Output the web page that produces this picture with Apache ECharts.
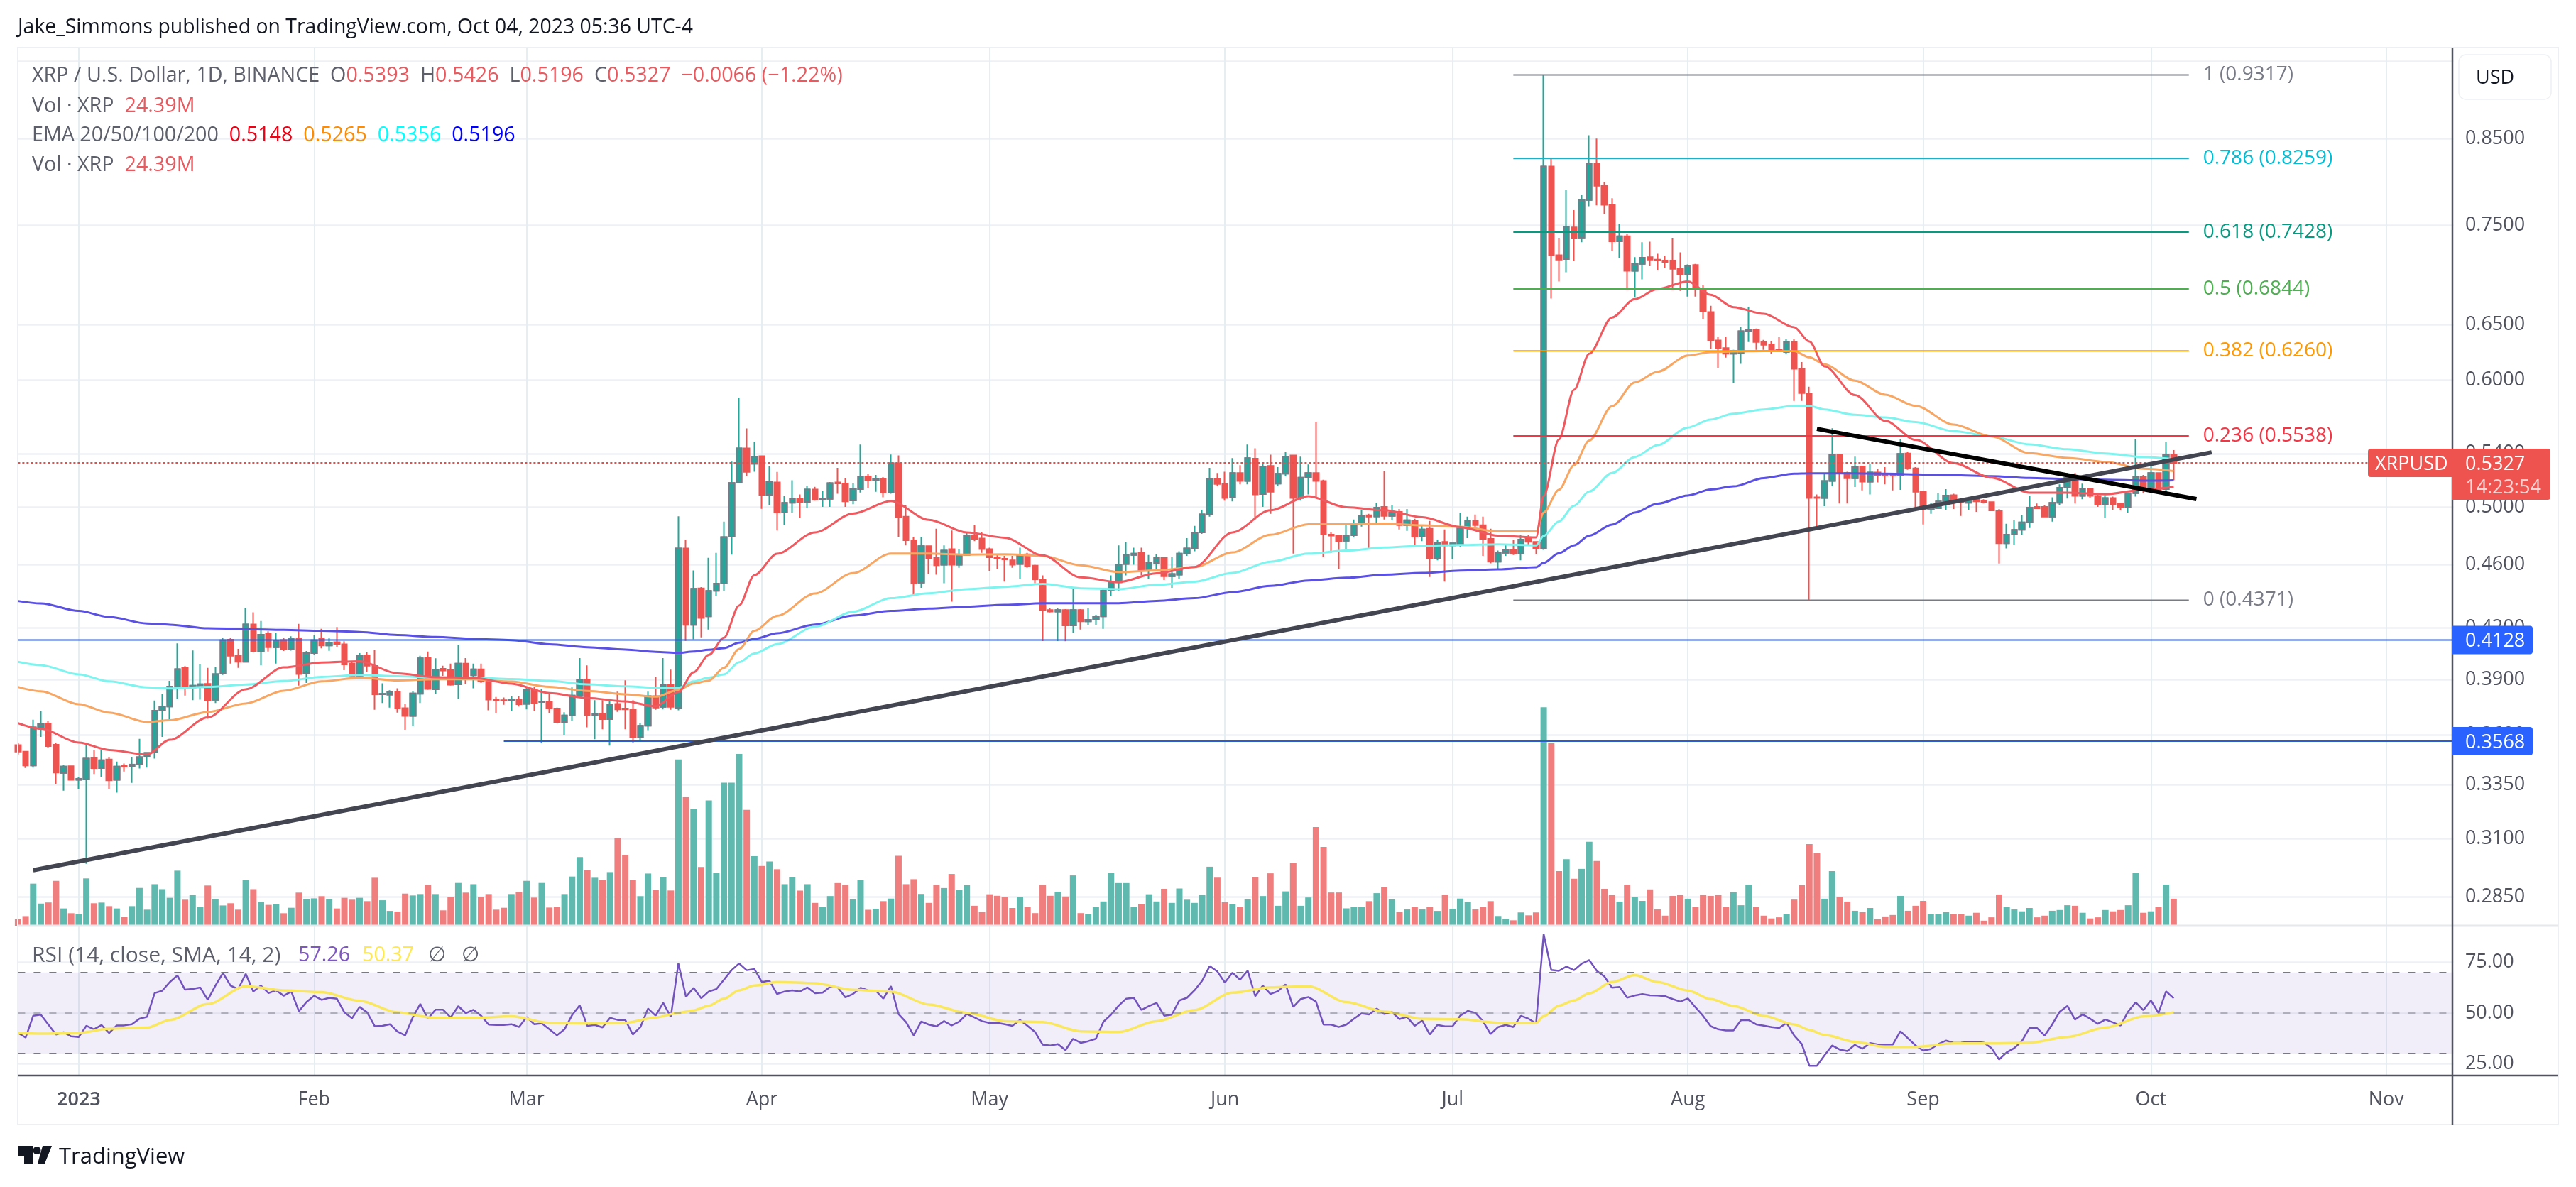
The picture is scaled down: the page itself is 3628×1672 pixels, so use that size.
<!DOCTYPE html>
<html>
<head>
<meta charset="utf-8">
<title>XRP / U.S. Dollar</title>
<script src="https://cdn.jsdelivr.net/npm/echarts@6/dist/echarts.min.js"></script>
<style>
  html, body { margin: 0; padding: 0; background: #fff; }
  #chart { width: 3628px; height: 1672px; }
</style>
</head>
<body>
<div id="chart"></div>
<script>
// daily candles, 2022-12-24 to 2023-10-04
const opens = [
  .3548,.3515,.3445,.3640,.3660,.3550,.3408,.3442,.3375,.3377,
  .3482,.3432,.3475,.3375,.3443,.3443,.3452,.3490,.3510,.3728,
  .3750,.3858,.3965,.3855,.3862,.3875,.3787,.3933,.4130,.4035,
  .4000,.4222,.4060,.4165,.4085,.4128,.4075,.4138,.3933,.4050,
  .4138,.4095,.4115,.4103,.3990,.3918,.4038,.3977,.3817,.3815,
  .3832,.3742,.3700,.3820,.4025,.3845,.3960,.3952,.3872,.3990,
  .3923,.3957,.3890,.3788,.3785,.3783,.3788,.3765,.3845,.3775,
  .3778,.3740,.3668,.3703,.3810,.3900,.3705,.3712,.3683,.3765,
  .3740,.3735,.3590,.3648,.3807,.3748,.3870,.3743,.4710,.4218,
  .4447,.4270,.4431,.4477,.4790,.5180,.5440,.5320,.5380,.5088,
  .5180,.4960,.5030,.5062,.5036,.5127,.5052,.5058,.5180,.5172,
  .5047,.5130,.5225,.5195,.5208,.5105,.5325,.4930,.4765,.4483,
  .4725,.4645,.4600,.4705,.4600,.4665,.4798,.4778,.4705,.4650,
  .4640,.4630,.4605,.4670,.4595,.4500,.4310,.4300,.4310,.4215,
  .4310,.4240,.4250,.4270,.4432,.4485,.4605,.4665,.4680,.4565,
  .4612,.4645,.4525,.4535,.4675,.4710,.4820,.4947,.5205,.5168,
  .5070,.5250,.5190,.5360,.5093,.5305,.5170,.5245,.5385,.5065,
  .5215,.5250,.5190,.4805,.4797,.4762,.4800,.4875,.4940,.4932,
  .5000,.4935,.4965,.4870,.4900,.4790,.4845,.4640,.4755,.4730,
  .4740,.4850,.4900,.4870,.4775,.4620,.4680,.4700,.4675,.4785,
  .4755,.4712,.8165,.7185,.7145,.7480,.7370,.7780,.8200,.7940,
  .7725,.7330,.7385,.7025,.7095,.7165,.7140,.7130,.7130,.7045,
  .6985,.7085,.6850,.6620,.6355,.6285,.6235,.6240,.6440,.6450,
  .6340,.6320,.6270,.6250,.6340,.6100,.5885,.5070,.5065,.5190,
  .5390,.5250,.5210,.5300,.5185,.5255,.5235,.5240,.5235,.5400,
  .5285,.5110,.4985,.4990,.5040,.5085,.5050,.5030,.5060,.5045,
  .5035,.4970,.4745,.4805,.4838,.4892,.5000,.5000,.4930,.5030,
  .5140,.5215,.5080,.5130,.5080,.5020,.5065,.5025,.5000,.5100,
  .5220,.5145,.5250,.5130,.5393
];
const highs = [
  .3560,.3515,.3680,.3725,.3675,.3560,.3450,.3445,.3390,.3555,
  .3523,.3523,.3487,.3465,.3455,.3487,.3580,.3512,.3783,.3820,
  .3892,.4108,.3975,.4066,.3987,.3965,.3970,.4140,.4140,.4075,
  .4323,.4296,.4242,.4180,.4170,.4140,.4150,.4225,.4063,.4155,
  .4195,.4140,.4205,.4120,.4000,.4050,.4055,.4068,.3878,.3840,
  .3850,.3765,.3835,.4035,.4060,.4020,.3978,.3990,.4100,.4022,
  .3990,.3990,.3910,.3803,.3800,.3805,.3805,.3860,.3860,.3848,
  .3818,.3745,.3720,.3855,.4022,.3980,.3785,.3785,.3780,.3832,
  .3895,.3785,.3662,.3832,.3913,.4022,.3955,.4933,.4770,.4563,
  .4455,.4646,.4680,.4895,.5337,.5852,.5598,.5492,.5385,.5300,
  .5258,.5078,.5195,.5091,.5153,.5147,.5115,.5183,.5290,.5213,
  .5172,.5470,.5245,.5235,.5220,.5392,.5385,.5010,.4790,.4790,
  .4725,.4845,.4730,.4833,.4705,.4820,.4870,.4820,.4715,.4665,
  .4660,.4660,.4715,.4680,.4600,.4530,.4320,.4320,.4315,.4445,
  .4315,.4320,.4280,.4445,.4530,.4730,.4755,.4715,.4715,.4665,
  .4670,.4645,.4650,.4690,.4780,.4865,.4980,.5290,.5250,.5260,
  .5365,.5310,.5470,.5440,.5330,.5390,.5295,.5410,.5385,.5375,
  .5315,.5653,.5200,.4820,.4800,.4870,.4910,.4980,.4950,.5030,
  .5268,.5010,.4985,.4985,.4915,.4870,.4900,.4770,.4840,.4750,
  .4960,.4930,.4945,.4930,.4845,.4695,.4740,.4770,.4800,.4805,
  .4760,.9317,.8255,.7368,.7890,.7667,.7840,.8540,.8500,.7985,
  .7800,.7515,.7405,.7165,.7320,.7325,.7200,.7180,.7368,.7215,
  .7090,.7095,.6885,.6680,.6390,.6390,.6270,.6480,.6670,.6465,
  .6360,.6350,.6385,.6370,.6370,.6160,.5945,.5090,.5245,.5600,
  .5395,.5260,.5375,.5305,.5320,.5280,.5295,.5250,.5510,.5415,
  .5295,.5115,.5030,.5100,.5130,.5095,.5060,.5070,.5075,.5055,
  .5040,.4985,.4880,.4905,.4940,.5080,.5025,.5010,.5070,.5165,
  .5250,.5250,.5170,.5140,.5100,.5085,.5075,.5030,.5105,.5510,
  .5235,.5320,.5255,.5490,.5426
];
const lows = [
  .3500,.3433,.3435,.3590,.3535,.3355,.3322,.3372,.3332,.2990,
  .3403,.3390,.3330,.3313,.3415,.3360,.3430,.3435,.3480,.3590,
  .3680,.3790,.3810,.3785,.3788,.3685,.3770,.3925,.3990,.3965,
  .3998,.4055,.3980,.4060,.3990,.4063,.4065,.3865,.3880,.4040,
  .4078,.4064,.4085,.3952,.3905,.3903,.3943,.3733,.3770,.3745,
  .3718,.3627,.3645,.3770,.3842,.3817,.3920,.3865,.3792,.3875,
  .3850,.3880,.3730,.3715,.3760,.3725,.3750,.3735,.3728,.3558,
  .3715,.3660,.3597,.3675,.3805,.3640,.3578,.3630,.3545,.3722,
  .3630,.3560,.3570,.3625,.3733,.3735,.3733,.3730,.4122,.4132,
  .4144,.4190,.4398,.4431,.4668,.5180,.5226,.5260,.4986,.5010,
  .4833,.4870,.4960,.4922,.4994,.5045,.5000,.5000,.5095,.5000,
  .5020,.5105,.5140,.5110,.5070,.5095,.4790,.4730,.4400,.4450,
  .4540,.4535,.4480,.4362,.4580,.4660,.4760,.4680,.4560,.4570,
  .4490,.4580,.4510,.4580,.4480,.4121,.4295,.4121,.4120,.4170,
  .4190,.4220,.4220,.4195,.4400,.4430,.4530,.4600,.4530,.4505,
  .4570,.4500,.4450,.4510,.4660,.4690,.4810,.4930,.5150,.5045,
  .5040,.5165,.5165,.4910,.5000,.4950,.5150,.5225,.4675,.5045,
  .5090,.5070,.4650,.4680,.4575,.4700,.4785,.4860,.4710,.4870,
  .4910,.4905,.4840,.4830,.4725,.4760,.4520,.4630,.4490,.4640,
  .4720,.4780,.4840,.4660,.4610,.4570,.4660,.4665,.4630,.4735,
  .4670,.4700,.6750,.6918,.7010,.7130,.7320,.7710,.7720,.7620,
  .7230,.7160,.6832,.6760,.6940,.7080,.7030,.7050,.6830,.6825,
  .6770,.6770,.6555,.6275,.6110,.6200,.5980,.6145,.6340,.6270,
  .6270,.6235,.6250,.6230,.5825,.5825,.4371,.4840,.5005,.5150,
  .5025,.5025,.5145,.5120,.5090,.5180,.5165,.5120,.5125,.5275,
  .4970,.4875,.4950,.4985,.4980,.4985,.4935,.4980,.4965,.5025,
  .4970,.4608,.4710,.4735,.4805,.4850,.4985,.4925,.4895,.5015,
  .5060,.5025,.5055,.5065,.5000,.4920,.4980,.4975,.4960,.5075,
  .5100,.5115,.5095,.5095,.5196
];
const closes = [
  .3515,.3445,.3640,.3657,.3543,.3410,.3440,.3375,.3380,.3480,
  .3432,.3472,.3372,.3440,.3439,.3450,.3487,.3508,.3728,.3750,
  .3860,.3958,.3855,.3865,.3873,.3785,.3930,.4127,.4035,.4000,
  .4222,.4063,.4160,.4085,.4125,.4072,.4135,.3930,.4050,.4127,
  .4095,.4112,.4105,.3985,.3915,.4035,.3978,.3817,.3820,.3832,
  .3740,.3700,.3822,.4020,.3847,.3955,.3950,.3870,.3990,.3920,
  .3957,.3888,.3788,.3782,.3782,.3788,.3763,.3842,.3770,.3778,
  .3740,.3668,.3703,.3810,.3900,.3705,.3712,.3683,.3760,.3735,
  .3735,.3590,.3648,.3807,.3745,.3870,.3748,.4710,.4218,.4444,
  .4261,.4431,.4477,.4787,.5176,.5440,.5258,.5375,.5088,.5185,
  .4960,.5030,.5062,.5036,.5127,.5052,.5060,.5175,.5172,.5040,
  .5130,.5225,.5195,.5208,.5105,.5325,.4925,.4765,.4479,.4725,
  .4640,.4597,.4695,.4600,.4665,.4795,.4775,.4705,.4650,.4640,
  .4636,.4600,.4665,.4590,.4505,.4310,.4300,.4310,.4215,.4310,
  .4240,.4250,.4270,.4432,.4485,.4600,.4665,.4675,.4565,.4612,
  .4645,.4525,.4540,.4675,.4710,.4820,.4947,.5205,.5168,.5065,
  .5250,.5190,.5365,.5090,.5300,.5110,.5245,.5375,.5065,.5215,
  .5250,.5190,.4805,.4797,.4760,.4800,.4875,.4935,.4930,.4995,
  .4935,.4960,.4870,.4905,.4790,.4840,.4640,.4750,.4730,.4745,
  .4850,.4900,.4870,.4775,.4620,.4680,.4700,.4675,.4770,.4755,
  .4710,.8165,.7185,.7140,.7487,.7368,.7780,.8200,.7940,.7725,
  .7330,.7385,.7025,.7095,.7160,.7140,.7130,.7115,.7045,.6985,
  .7080,.6850,.6625,.6355,.6285,.6235,.6260,.6440,.6450,.6340,
  .6315,.6265,.6255,.6340,.6100,.5890,.5065,.5065,.5190,.5390,
  .5250,.5210,.5295,.5185,.5255,.5235,.5230,.5230,.5397,.5285,
  .5110,.4985,.5010,.5040,.5082,.5045,.5035,.5055,.5040,.5035,
  .4975,.4745,.4805,.4838,.4890,.4995,.4990,.4930,.5030,.5140,
  .5215,.5080,.5130,.5080,.5020,.5065,.5020,.4995,.5100,.5220,
  .5145,.5250,.5125,.5393,.5327
];
// millions of XRP
const volumes = [
  6,8.7,38,20,21,40.5,15.6,11.3,10.7,42.7,
  20.3,20.9,17.7,15.6,8.1,17.7,34.1,14.5,37.5,33,
  25.2,49.7,23.5,27.7,17,36.3,24.1,18.3,20.3,14.5,
  41.2,33,21.5,18.8,19.6,11.3,16.2,29.9,24.1,24.7,
  26.7,24.1,15.6,25.2,23.5,25.2,22.2,43.3,23,13.4,
  12.8,29,27.3,28.6,36.9,28.6,13.9,26,38.6,29.9,
  37.5,26,28.6,14.5,16.2,28.6,30.5,40.5,25.4,38.6,
  16.4,17.1,28.6,44.4,61.9,50.3,43.3,41.4,48.4,79.1,
  63.8,41.4,26.7,47.1,32.4,43.9,31.8,150,116,105,
  53,113,48,129,129,155,104.5,62.7,53.9,58,
  51,37.5,44,31.7,37.5,20.6,17.3,26.8,38.5,36.9,
  23.8,41.5,14.4,15.3,22.2,24.5,63,37.5,42,28.7,
  20.6,36.9,34,46.7,32,36.6,18,12.4,28.4,27,
  26,16,26,16.7,11.4,36.9,27,30.7,26.4,45.4,
  11.4,10.4,16.7,21.9,48,38.5,38.5,17.3,19.3,28.4,
  21.9,33.3,20.6,33.6,23.5,20.6,27.8,53.2,43.4,21.2,
  19.3,16.7,23.8,44,26.8,47.3,18,31,57,18,
  25.5,89,71,30,30,15.7,17.3,17.3,22.2,29.4,
  35,23.8,12.4,14.7,16.7,14.7,16.7,13.4,28,15.3,
  24.5,21.5,14.7,16.7,22.2,8.8,6.2,4.9,12,9.4,
  12,197,164.5,49.3,60,42.4,51.3,75.7,58.4,33.3,
  27.7,21.8,37,25.7,22.4,32.8,14.7,9.1,26.9,27.7,
  24.4,16.8,27.7,26.9,27.7,17.3,30.2,18.5,37,16.8,
  9.1,6.6,7.6,10.4,23.6,36.6,73.7,65.3,24.4,49.3,
  25.7,21.8,13.5,12.2,16,5.8,8.4,9.7,26.9,13.5,
  18,22.4,10.9,10.4,12.2,10.4,10.9,9.1,11.7,4.6,
  7.6,28.2,17.3,14.7,13,16,7.6,9.1,13.5,14.2,
  18.5,18,11.7,6.6,7.6,14.2,13,14.2,18.5,47.5,
  11.7,13,16.8,37.1,24.39
];
const rsi = [
  40.2,37.9,48.7,49.2,44.3,39.4,40.6,38.5,38.2,43.7,
  42,44.1,40.1,43.9,43.9,44.5,47.2,48.1,59.8,61,
  65.3,68.5,61.5,61.9,62.6,56.5,63.5,69.7,63.5,61.8,
  69.3,60.6,63.5,59.8,61.2,58.5,60.6,50.9,55.4,58.5,
  56.5,57.5,57.1,50.3,47.4,53,50.3,43.5,43.7,44.5,
  40.8,39,47.8,54.5,47.2,51.6,51.6,47.8,53.4,49.9,
  51.6,48.7,44.3,44.1,44.1,44.5,43.1,48,44.5,44.9,
  42,39,42,49,53.8,43.7,44.1,42.9,47.6,46.6,
  46.6,39.4,43.1,52.2,48.7,55,48.1,74.4,58,62.4,
  57.3,60.6,61.8,66.4,71.1,74.4,71.1,71.7,65.3,65.9,
  59.4,60.6,61.2,60.6,62.6,59.8,60,62.9,62.7,57.7,
  59.4,62.4,61.2,61,57.1,63.2,49.5,45.5,39,45.8,
  44.3,43.4,46,43.9,45.7,49.5,47.8,46,45.1,
  45.2,44.5,43.7,46.6,43.7,40.6,34.4,34,34.7,31.7,
  37.3,35.3,36.1,37.3,45.7,49.2,53.6,57.1,57.5,51.5,
  53.4,55,48.7,49.2,56.2,57.5,61.2,65.9,73.1,70.5,
  65,69.9,66.4,70.9,58.3,63.5,59.4,60.8,64.1,53,
  56.9,57.9,55.6,44.3,44.3,43.1,44.3,47.2,49.8,49.3,
  52.2,49.5,50.5,47,48.1,43.7,46.3,39.4,44.1,43.4,
  43.5,48.7,51,50.1,46,39.6,43.1,44.1,43.1,48.6,
  47.2,44.9,88.9,
  71.2,70.8,72.9,71.1,74.3,76.1,70.8,68,62.5,62.8,
  57.6,58.6,59.3,58.7,58.6,58.3,56.9,55.6,57.2,52.8,
  48.6,43.5,42,41.4,41.4,46.5,46.5,44.4,43.8,43.1,
  42.6,45.1,38.9,34.7,24,24,29.2,34,32,31.3,
  34.3,32.4,35.2,34.5,34.5,34.5,41,37.5,34,31.5,
  32.2,34.7,36.4,35.3,35.4,35.8,35.8,35.4,32.7,27.1,
  30.6,32.7,36.1,42.6,42.6,38.9,44.4,50.7,53.5,46.8,
  49.3,47.2,44.7,46.8,45.4,43.8,50.7,55.3,51.4,56.2,
  50,60.7,57.26
];

// the smooth lines were read at these dates
const readDates = [
  '2022-12-24','2022-12-27','2023-01-01','2023-01-05','2023-01-10','2023-01-13','2023-01-18','2023-01-23','2023-01-28','2023-02-02',
  '2023-02-07','2023-02-12','2023-02-17','2023-02-22','2023-02-27','2023-03-04','2023-03-09','2023-03-14','2023-03-18','2023-03-21',
  '2023-03-23','2023-03-25','2023-03-27','2023-03-29','2023-03-31','2023-04-03','2023-04-08','2023-04-13','2023-04-18','2023-04-23',
  '2023-04-28','2023-05-03','2023-05-08','2023-05-13','2023-05-18','2023-05-23','2023-05-28','2023-06-02','2023-06-07','2023-06-12',
  '2023-06-17','2023-06-22','2023-06-27','2023-07-02','2023-07-07','2023-07-12','2023-07-13','2023-07-15','2023-07-17','2023-07-19',
  '2023-07-22','2023-07-25','2023-07-28','2023-08-01','2023-08-04','2023-08-07','2023-08-11','2023-08-15','2023-08-17','2023-08-19',
  '2023-08-23','2023-08-27','2023-08-31','2023-09-05','2023-09-10','2023-09-15','2023-09-20','2023-09-25','2023-09-30','2023-10-04'
];
const ema20 = [
  .3662,.3632,.3561,.3523,.3500,.3575,.3692,.3845,.3968,.3996,
  .4003,.3934,.3912,.3909,.3876,.3824,.3797,.3778,.3752,.3830,
  .3940,.4040,.4141,.4338,.4532,.4674,.4820,.4952,.5042,.4908,
  .4820,.4783,.4663,.4517,.4487,.4544,.4585,.4820,.4976,.5078,
  .4997,.4976,.4926,.4857,.4797,.4785,.5080,.5510,.5919,.6234,
  .6569,.6745,.6844,.6919,.6786,.6667,.6603,.6476,.6345,.6123,
  .5874,.5660,.5507,.5326,.5215,.5104,.5104,.5092,.5125,.5148
];
const ema50 = [
  .3858,.3834,.3763,.3718,.3668,.3677,.3721,.3767,.3837,.3889,
  .3910,.3894,.3901,.3901,.3888,.3858,.3836,.3817,.3804,.3842,
  .3877,.3893,.3965,.4074,.4183,.4274,.4414,.4545,.4675,.4675,
  .4668,.4670,.4660,.4597,.4552,.4563,.4585,.4683,.4803,.4877,
  .4877,.4882,.4869,.4859,.4827,.4827,.4960,.5124,.5310,.5502,
  .5780,.5981,.6074,.6218,.6249,.6256,.6259,.6259,.6202,.6139,
  .5997,.5877,.5783,.5630,.5534,.5403,.5366,.5335,.5283,.5265
];
const ema100 = [
  .4000,.3981,.3928,.3889,.3855,.3849,.3858,.3871,.3891,.3914,
  .3925,.3918,.3910,.3910,.3902,.3892,.3872,.3861,.3854,.3853,
  .3889,.3910,.3928,.3998,.4048,.4104,.4208,.4299,.4384,.4415,
  .4441,.4456,.4475,.4447,.4441,.4469,.4489,.4546,.4620,.4675,
  .4695,.4716,.4728,.4733,.4738,.4730,.4796,.4897,.5008,.5112,
  .5250,.5373,.5465,.5606,.5671,.5718,.5754,.5783,.5783,.5754,
  .5709,.5688,.5650,.5577,.5534,.5471,.5433,.5400,.5372,.5356
];
const ema200 = [
  .4366,.4351,.4304,.4267,.4227,.4220,.4198,.4193,.4188,.4183,
  .4176,.4157,.4146,.4134,.4127,.4103,.4085,.4071,.4058,.4052,
  .4060,.4070,.4080,.4112,.4134,.4168,.4221,.4276,.4304,.4319,
  .4330,.4342,.4352,.4352,.4352,.4367,.4384,.4422,.4462,.4497,
  .4515,.4535,.4546,.4562,.4570,.4584,.4613,.4677,.4730,.4797,
  .4874,.4960,.5023,.5083,.5127,.5150,.5212,.5245,.5248,.5248,
  .5248,.5245,.5240,.5234,.5226,.5213,.5205,.5200,.5193,.5196
];
const rsiSma = [
  40.2,39.8,40.2,42.3,42.8,46.6,54.4,63.2,61.2,60.3,
  56,50.3,47.6,47.6,48.4,45.2,44.9,45.2,47.8,50.1,
  51.3,53.6,57.1,61.2,63.5,65.3,64.7,61.4,60.6,54.2,
  50.1,46,45.5,41,40.6,46,51.5,60,62.7,63.2,
  55.4,50.7,47.2,46.9,45.2,45.2,48.4,53.6,56.2,59.7,
  65.3,68.7,65.3,61.1,56.9,53.5,48.6,44.4,41.7,39.2,
  35.8,33.3,33.3,35,35,35.4,38.2,42.8,48.3,50.37
];

// drawings on the chart
const fibRatios = ['1', '0.786', '0.618', '0.5', '0.382', '0.236', '0'];
const fibPrices = [0.9317, 0.8259, 0.7428, 0.6844, 0.6260, 0.5538, 0.4371];
const fibColors = ['#787b86', '#00bcd4', '#089981', '#4caf50', '#ff9800', '#f23645', '#787b86'];
const fibDates = ['2023-07-09', '2023-10-06'];
const riseDates = ['2022-12-26', '2023-10-09'];
const risePrices = [0.2963, 0.5409];
const fallDates = ['2023-08-18', '2023-10-07'];
const fallPrices = [0.5595, 0.5057];
const supportPrices = [0.4128, 0.3568];
const supportStarts = ['2022-12-24', '2023-02-26'];

const priceTicks = [0.285, 0.31, 0.335, 0.36, 0.39, 0.42, 0.46, 0.5, 0.54, 0.6, 0.65, 0.75, 0.85, 0.95];
const rsiTicks = [25, 50, 75];
const monthNames = ['2023', 'Feb', 'Mar', 'Apr', 'May', 'Jun', 'Jul', 'Aug', 'Sep', 'Oct', 'Nov'];

const firstDay = Date.UTC(2022, 11, 24);
const categories = [];
for (let i = 0; i <= 321; i++) {
  categories.push(new Date(firstDay + i * 86400000).toISOString().slice(0, 10));
}
const lastDate = categories[categories.length - 1];
const barDates = categories.slice(0, closes.length);

const UP = '#26a69a', DOWN = '#ef5350', GRAY = '#787b86';
const FONT = '"Open Sans", "Noto Sans", sans-serif';
const isMonthStart = (i, v) => v.slice(8) === '01' && v >= '2023-01-01';

const candles = barDates.map((d, i) => [opens[i], closes[i], lows[i], highs[i]]);
// up candles get a gray outline over the body only, wicks stay green
const upBodies = barDates.map((d, i) => closes[i] >= opens[i] ?
  [opens[i], closes[i], opens[i], closes[i]] : ['-', '-', '-', '-']);
const volumeBars = barDates.map((d, i) => ({
  value: volumes[i],
  itemStyle: { color: closes[i] >= opens[i] ? '#5fb9ae' : '#f17e7e' }
}));

function readLine(name, values, color, width, extra) {
  return Object.assign({
    name, type: 'line', xAxisIndex: 0, yAxisIndex: 0,
    data: readDates.map((d, i) => [d, values[i]]),
    showSymbol: false, smooth: 0.3, smoothMonotone: 'x', silent: true,
    lineStyle: { color, width }
  }, extra);
}
function drawn(name, dates, prices, color, width, type) {
  return {
    name, type: 'line', xAxisIndex: 0, yAxisIndex: 0,
    data: [[dates[0], prices[0]], [dates[1], prices[1]]],
    showSymbol: false, silent: true,
    lineStyle: { color, width, type: type || 'solid' }
  };
}

const series = [
  {
    name: 'Vol', type: 'bar', xAxisIndex: 1, yAxisIndex: 1,
    data: volumeBars, barWidth: 9, silent: true
  },
  {
    name: 'XRPUSD', type: 'candlestick', xAxisIndex: 0, yAxisIndex: 0,
    data: candles, barWidth: 8, silent: true,
    itemStyle: { color: UP, color0: DOWN, borderColor: UP, borderColor0: DOWN, borderColorDoji: GRAY, borderWidth: 2 }
  },
  {
    name: 'Bodies', type: 'candlestick', xAxisIndex: 0, yAxisIndex: 0,
    data: upBodies, barWidth: 8, silent: true,
    itemStyle: { color: UP, color0: UP, borderColor: GRAY, borderColor0: GRAY, borderColorDoji: GRAY, borderWidth: 2 }
  },
  readLine('EMA 200', ema200, '#5a50e2', 3),
  readLine('EMA 100', ema100, '#7ff4ef', 3),
  readLine('EMA 50', ema50, '#f7a763', 3),
  readLine('EMA 20', ema20, '#ee5a60', 3),
  drawn('Last', [barDates[0], lastDate], [closes[284], closes[284]], '#e0504d', 2, [3, 3])
];
fibPrices.forEach((p, i) => {
  const s = drawn('Fib ' + fibRatios[i], fibDates, [p, p], fibColors[i], 2);
  s.endLabel = {
    show: true, distance: 20, color: fibColors[i], fontFamily: FONT, fontSize: 28, padding: [4, 0, 0, 0],
    formatter: fibRatios[i] + ' (' + p.toFixed(4) + ')'
  };
  series.push(s);
});
supportPrices.forEach((p, i) => {
  series.push(drawn('Level ' + p, [supportStarts[i], lastDate], [p, p], '#2a5bd0', 2));
});
series.push(drawn('Rising trend', riseDates, risePrices, '#434651', 6));
series.push(drawn('Falling trend', fallDates, fallPrices, '#000000', 6));
series.push({
  name: 'RSI', type: 'line', xAxisIndex: 2, yAxisIndex: 2,
  data: rsi, showSymbol: false, silent: true,
  lineStyle: { color: '#7252bd', width: 2.5 },
  markArea: {
    silent: true,
    itemStyle: { color: 'rgba(126,87,194,0.1)' },
    data: [[{ yAxis: 70 }, { yAxis: 30 }]]
  },
  markLine: {
    silent: true, symbol: 'none', label: { show: false },
    lineStyle: { color: GRAY, type: [10, 12], width: 2 },
    data: [{ yAxis: 70 }, { yAxis: 30 }, { yAxis: 50, lineStyle: { color: 'rgba(120,123,134,0.5)' } }]
  }
});
series.push({
  name: 'RSI SMA', type: 'line', xAxisIndex: 2, yAxisIndex: 2,
  data: readDates.map((d, i) => [d, rsiSma[i]]),
  showSymbol: false, smooth: 0.3, smoothMonotone: 'x', silent: true,
  lineStyle: { color: '#f9e85f', width: 3.5 }
});

const gridLine = { lineStyle: { color: '#eef1f4', width: 2.5 } };
const monthLine = { show: true, interval: isMonthStart, lineStyle: { color: '#e6eef2', width: 2 } };
const hiddenAxis = { axisLine: { show: false }, axisTick: { show: false }, axisLabel: { show: false } };

const option = {
  animation: false,
  backgroundColor: '#ffffff',
  textStyle: { fontFamily: FONT },
  grid: [
    { left: 25.4, top: 67, width: 3431.5, height: 1237 },
    { left: 25.4, top: 67, width: 3431.5, height: 1237 },
    { left: 25.4, top: 1304, width: 3431.5, height: 211 }
  ],
  xAxis: [
    Object.assign({ type: 'category', gridIndex: 0, data: categories, boundaryGap: false, splitLine: monthLine }, hiddenAxis),
    Object.assign({ type: 'category', gridIndex: 1, data: categories, boundaryGap: false, splitLine: { show: false } }, hiddenAxis),
    {
      type: 'category', gridIndex: 2, data: categories, boundaryGap: false, splitLine: monthLine,
      axisLine: { show: false }, axisTick: { show: false },
      axisLabel: {
        interval: isMonthStart, margin: 21, color: '#50535e', fontSize: 27, hideOverlap: false,
        formatter: v => {
          const name = monthNames[(+v.slice(5, 7) - 1)];
          return name === '2023' ? '{y|2023}' : name;
        },
        rich: { y: { fontWeight: 600, fontSize: 27, color: '#50535e' } }
      }
    }
  ],
  yAxis: [
    {
      type: 'log', logBase: Math.E, gridIndex: 0, position: 'right', min: 0.2735, max: 0.969,
      axisLine: { show: false },
      axisTick: { show: false, customValues: priceTicks },
      splitLine: gridLine,
      // the top tick keeps its grid line, its label sits behind the USD button
      axisLabel: { customValues: priceTicks, margin: 15, color: '#50535e', fontSize: 27, padding: [4, 0, 0, 0], formatter: v => +v > 0.9 ? '' : (+v).toFixed(4) }
    },
    {
      type: 'value', gridIndex: 1, min: 0, max: 792, splitLine: { show: false },
      axisLine: { show: false }, axisTick: { show: false }, axisLabel: { show: false }
    },
    {
      type: 'value', gridIndex: 2, position: 'right', min: 19.2, max: 93,
      axisLine: { show: false },
      axisTick: { show: false, customValues: rsiTicks },
      splitLine: Object.assign({ show: true }, gridLine),
      axisLabel: { customValues: rsiTicks, margin: 15, color: '#50535e', fontSize: 27, padding: [4, 0, 0, 0], formatter: v => (+v).toFixed(2) }
    }
  ],
  series
};

const chart = echarts.init(document.getElementById('chart'));
chart.setOption(option);

// page furniture around the panes
const plain = (x, y, text, size, fill, extra) => ({
  type: 'text', z: 30, x, y,
  style: Object.assign({ text, fill, fontSize: size, fontFamily: FONT, verticalAlign: 'middle' }, extra)
});
const rule = (x1, y1, x2, y2, stroke, lineWidth) => ({
  type: 'line', z: 25, shape: { x1, y1, x2, y2 }, style: { stroke, lineWidth }
});
function legendRow(x, y, parts) {
  const rich = {};
  let text = '';
  parts.forEach((p, i) => {
    rich['p' + i] = { fill: p[1], fontSize: 28.7, fontFamily: FONT };
    text += '{p' + i + '|' + p[0] + '}';
  });
  return { type: 'text', z: 30, x, y, style: { text, rich, verticalAlign: 'middle', fontSize: 28.7, fontFamily: FONT } };
}
function priceBox(price, text) {
  const y = chart.convertToPixel({ yAxisIndex: 0 }, price);
  return [
    { type: 'rect', z: 28, shape: { x: 3454, y: y - 20, width: 113, height: 40, r: [0, 4, 4, 0] }, style: { fill: '#2962ff' } },
    plain(3472, y + 2, text, 27, '#ffffff')
  ];
}

const TEXT = '#5d606b', VAL = '#e85a5f';
const lastY = chart.convertToPixel({ yAxisIndex: 0 }, closes[284]);
const elements = [
  { type: 'rect', z: 24, shape: { x: 3455.5, y: 68, width: 4, height: 1447 }, style: { fill: '#ffffff' } },
  { type: 'rect', z: 25, shape: { x: 25, y: 67, width: 3578, height: 1517 }, style: { fill: 'none', stroke: '#edf0f3', lineWidth: 2 } },
  rule(25, 1304, 3603, 1304, '#e6e8ec', 3),
  rule(25, 1515, 3603, 1515, '#50535e', 2.5),
  rule(3454, 67, 3454, 1584, '#50535e', 2.5),
  { type: 'rect', z: 28, shape: { x: 3463, y: 77, width: 130, height: 63, r: 10 }, style: { fill: '#ffffff', stroke: '#eef0f3', lineWidth: 1.5 } },
  plain(3487, 110, 'USD', 27, '#131722'),
  plain(25, 39, 'Jake_Simmons published on TradingView.com, Oct 04, 2023 05:36 UTC-4', 28.4, '#131722'),
  legendRow(45, 107, [['XRP / U.S. Dollar, 1D, BINANCE  O', TEXT], ['0.5393', VAL], ['  H', TEXT], ['0.5426', VAL], ['  L', TEXT], ['0.5196', VAL], ['  C', TEXT], ['0.5327', VAL], ['  −0.0066 (−1.22%)', VAL]]),
  legendRow(45, 150, [['Vol · XRP  ', TEXT], ['24.39M', VAL]]),
  legendRow(45, 191, [['EMA 20/50/100/200  ', TEXT], ['0.5148', '#f00014'], ['  ', TEXT], ['0.5265', '#ff8c00'], ['  ', TEXT], ['0.5356', '#00ffff'], ['  ', TEXT], ['0.5196', '#0000ff']]),
  legendRow(45, 233, [['Vol · XRP  ', TEXT], ['24.39M', VAL]]),
  plain(45, 1346, 'RSI (14, close, SMA, 14, 2)', 30, TEXT),
  plain(420, 1346, '57.26', 28.7, '#7e57c2'),
  plain(510, 1346, '50.37', 28.7, '#ffe94f'),
  plain(603, 1346, '∅', 28.7, TEXT),
  plain(650, 1346, '∅', 28.7, TEXT),
  { type: 'rect', z: 28, shape: { x: 3335, y: lastY - 20, width: 119, height: 40, r: [4, 0, 0, 4] }, style: { fill: DOWN } },
  { type: 'rect', z: 28, shape: { x: 3454, y: lastY - 20, width: 138, height: 72, r: [0, 4, 4, 0] }, style: { fill: DOWN } },
  plain(3345, lastY + 2, 'XRPUSD', 27, '#ffffff'),
  plain(3472, lastY + 2, closes[284].toFixed(4), 27, '#ffffff'),
  plain(3472, lastY + 35, '14:23:54', 27, 'rgba(255,255,255,0.75)'),
  { type: 'rect', z: 30, shape: { x: 25, y: 1614, width: 21, height: 14 }, style: { fill: '#131722' } },
  { type: 'rect', z: 30, shape: { x: 34, y: 1614, width: 12, height: 25 }, style: { fill: '#131722' } },
  { type: 'circle', z: 30, shape: { cx: 52, cy: 1620.5, r: 5.5 }, style: { fill: '#131722' } },
  { type: 'polygon', z: 30, shape: { points: [[60, 1614], [73, 1614], [63, 1639], [53, 1639]] }, style: { fill: '#131722' } },
  plain(83, 1630, 'TradingView', 31, '#131722')
];
supportPrices.forEach(p => elements.push(...priceBox(p, p.toFixed(4))));
chart.setOption({ graphic: { elements } });
</script>
</body>
</html>
